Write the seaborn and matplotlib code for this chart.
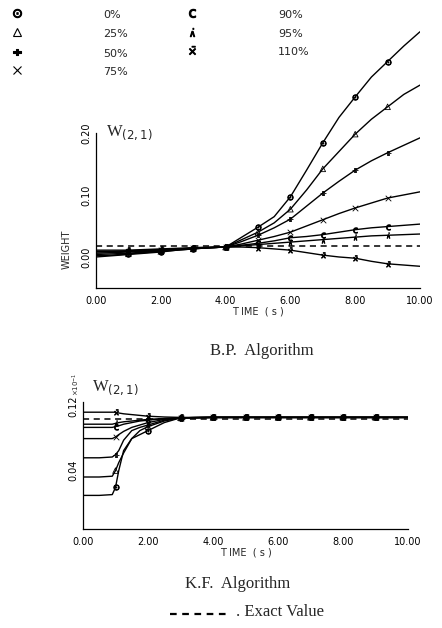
import numpy as np
import pandas as pd
import matplotlib
matplotlib.use('Agg')
import matplotlib.pyplot as plt
import seaborn as sns

# initial-value levels (percent of exact value)
labels = ['0%', '25%', '50%', '75%', '90%', '95%', '110%']
markers = [r'$\odot$', '^', r'$\div$', 'x', r'$\mathsf{c}$', r'$\dot{\wedge}$', r'$\bar{\times}$']

# --- B.P. algorithm, W(2,1), sampled every 0.5 s ---
bp_time = [0.0, 0.5, 1.0, 1.5, 2.0, 2.5, 3.0, 3.5, 4.0, 4.5, 5.0, 5.5, 6.0, 6.5, 7.0, 7.5, 8.0, 8.5, 9.0, 9.5, 10.0]
bp_0 = [0.000, 0.002, 0.004, 0.006, 0.008, 0.011, 0.013, 0.015, 0.016, 0.032, 0.048, 0.065, 0.097, 0.140, 0.184, 0.225, 0.258, 0.290, 0.315, 0.340, 0.363]
bp_25 = [0.002, 0.003, 0.005, 0.007, 0.009, 0.011, 0.013, 0.015, 0.016, 0.028, 0.040, 0.055, 0.077, 0.108, 0.142, 0.170, 0.198, 0.222, 0.242, 0.262, 0.277]
bp_50 = [0.004, 0.005, 0.006, 0.008, 0.010, 0.012, 0.014, 0.015, 0.016, 0.025, 0.035, 0.047, 0.061, 0.082, 0.103, 0.122, 0.140, 0.155, 0.168, 0.180, 0.192]
bp_75 = [0.006, 0.007, 0.008, 0.009, 0.011, 0.012, 0.014, 0.015, 0.016, 0.021, 0.027, 0.033, 0.040, 0.050, 0.060, 0.070, 0.079, 0.087, 0.095, 0.100, 0.105]
bp_90 = [0.008, 0.008, 0.009, 0.010, 0.011, 0.013, 0.014, 0.015, 0.016, 0.019, 0.022, 0.026, 0.031, 0.033, 0.036, 0.040, 0.044, 0.047, 0.049, 0.051, 0.053]
bp_95 = [0.009, 0.009, 0.010, 0.011, 0.012, 0.013, 0.014, 0.015, 0.016, 0.018, 0.020, 0.022, 0.024, 0.026, 0.028, 0.030, 0.032, 0.034, 0.035, 0.036, 0.037]
bp_110 = [0.011, 0.011, 0.011, 0.012, 0.013, 0.014, 0.015, 0.016, 0.016, 0.016, 0.015, 0.013, 0.011, 0.007, 0.003, 0.000, -0.002, -0.007, -0.011, -0.013, -0.015]
bp_exact = 0.018

# --- K.F. algorithm, W(2,1) (x 10^-1) ---
kf_time = [0.0, 0.5, 0.9, 1.0, 1.1, 1.25, 1.5, 1.75, 2.0, 2.5, 3.0, 4.0, 5.0, 6.0, 7.0, 8.0, 9.0, 10.0]
kf_0 = [0.009, 0.009, 0.010, 0.019, 0.040, 0.065, 0.080, 0.085, 0.090, 0.100, 0.106, 0.1065, 0.1065, 0.1065, 0.1065, 0.1065, 0.1065, 0.1065]
kf_25 = [0.032, 0.032, 0.033, 0.040, 0.050, 0.062, 0.080, 0.090, 0.095, 0.102, 0.106, 0.1065, 0.1065, 0.1065, 0.1065, 0.1065, 0.1065, 0.1065]
kf_50 = [0.056, 0.056, 0.057, 0.060, 0.065, 0.078, 0.090, 0.094, 0.097, 0.103, 0.106, 0.1065, 0.1065, 0.1065, 0.1065, 0.1065, 0.1065, 0.1065]
kf_75 = [0.080, 0.080, 0.080, 0.082, 0.085, 0.089, 0.094, 0.097, 0.100, 0.104, 0.106, 0.1065, 0.1065, 0.1065, 0.1065, 0.1065, 0.1065, 0.1065]
kf_90 = [0.094, 0.094, 0.094, 0.095, 0.096, 0.098, 0.100, 0.102, 0.103, 0.105, 0.106, 0.1065, 0.1065, 0.1065, 0.1065, 0.1065, 0.1065, 0.1065]
kf_95 = [0.098, 0.098, 0.098, 0.099, 0.100, 0.101, 0.102, 0.103, 0.104, 0.105, 0.106, 0.1065, 0.1065, 0.1065, 0.1065, 0.1065, 0.1065, 0.1065]
kf_110 = [0.113, 0.113, 0.113, 0.113, 0.112, 0.111, 0.110, 0.109, 0.108, 0.107, 0.1065, 0.1065, 0.1065, 0.1065, 0.1065, 0.1065, 0.1065, 0.1065]
kf_exact = 0.1045

bp_series = [bp_0, bp_25, bp_50, bp_75, bp_90, bp_95, bp_110]
kf_series = [kf_0, kf_25, kf_50, kf_75, kf_90, kf_95, kf_110]

x_ticklabels = ['0.00', '2.00', '4.00', '6.00', '8.00', '10.00']

sns.set_theme(style='white')
plt.rcParams['font.family'] = ['DejaVu Sans']

fig = plt.figure(figsize=(4.42, 6.28), dpi=100)
ax1 = fig.add_axes([96 / 442, 1 - 288 / 628, 324 / 442, 273 / 628])
ax2 = fig.add_axes([83 / 442, 1 - 529 / 628, 325 / 442, 128 / 628])


def draw(ax, time, series, exact):
    for vals, mk in zip(series, markers):
        df = pd.DataFrame({'t': time, 'w': vals})
        sns.lineplot(data=df, x='t', y='w', ax=ax, color='black', lw=1.0)
        pts = df[(df['t'] % 1 == 0) & (df['t'] > 0) & (df['t'] < 10)]
        sns.scatterplot(data=pts, x='t', y='w', ax=ax, marker=mk, s=16,
                        color='black', facecolor='none' if mk == '^' else 'black',
                        edgecolor='black', linewidth=0.6, zorder=3)
    sns.lineplot(x=[0, 10], y=[exact, exact], ax=ax, color='black', lw=1.1, ls=(0, (4, 3)))
    ax.set_xlim(0, 10)
    ax.set_xticks(np.arange(0, 11, 1))
    ax.set_xticklabels([x_ticklabels[i // 2] if i % 2 == 0 else '' for i in range(11)], fontsize=7)
    ax.tick_params(axis='x', direction='in', length=3, width=0.8, pad=6, colors='black')
    ax.tick_params(axis='y', direction='inout', length=4, width=0.8, pad=1, colors='black')
    for s in ['top', 'right']:
        ax.spines[s].set_visible(False)
    for s in ['left', 'bottom']:
        ax.spines[s].set_color('black')
        ax.spines[s].set_linewidth(0.9)
    ax.set_xlabel('T IME  ( s )', fontsize=7, labelpad=0)
    ax.set_facecolor('white')


draw(ax1, bp_time, bp_series, bp_exact)
ax1.set_ylim(-0.05, 0.39)
ax1.spines['left'].set_bounds(-0.05, 0.20)
ax1.set_yticks([-0.05, 0.0, 0.05, 0.10, 0.15, 0.20])
ax1.set_yticklabels(['', '0.00', '', '0.10', '', '0.20'], rotation=90, va='center', fontsize=7)
ax1.set_ylabel('WEIGHT', fontsize=7, labelpad=1)
ax1.yaxis.set_label_coords(-0.075, 0.14)

draw(ax2, kf_time, kf_series, kf_exact)
ax2.set_ylim(-0.033, 0.127)
ax2.spines['left'].set_bounds(-0.033, 0.126)
ax2.set_yticks([-0.02, 0.0, 0.02, 0.04, 0.06, 0.08, 0.10, 0.12])
ax2.set_yticklabels(['', '', '', '0.04', '', '', '', '0.12'], rotation=90, va='center', fontsize=7)
ax2.set_ylabel('')

# W(2,1) labels
ax1.text(0.3, 0.2, r'W$_{(2,1)}$', fontsize=12, family='Liberation Serif', va='center')
fig.text(92 / 442, 1 - 388 / 628, r'W$_{(2,1)}$', fontsize=12, family='Liberation Serif', va='center')
fig.text(76 / 442, 1 - 396 / 628, r'$\times10^{-1}$', fontsize=5, rotation=90, ha='center', va='bottom')

# captions
fig.text(262 / 442, 1 - 351 / 628, 'B.P.  Algorithm', fontsize=12, family='Liberation Serif', ha='center', va='center')
fig.text(238 / 442, 1 - 584 / 628, 'K.F.  Algorithm', fontsize=12, family='Liberation Serif', ha='center', va='center')
fig.add_artist(plt.Line2D([170 / 442, 230 / 442], [1 - 614 / 628, 1 - 614 / 628], color='black', lw=1.6, ls=(0, (3, 2.5))))
fig.text(236 / 442, 1 - 612 / 628, '. Exact Value', fontsize=12, family='Liberation Serif', ha='left', va='center')

# legend block
leg_pos = [(17, 13), (17, 32), (17, 52), (17, 70), (192, 13), (192, 32), (192, 50)]
for (px, py), mk, lab in zip(leg_pos, markers, labels):
    fig.add_artist(plt.Line2D([px / 442], [1 - py / 628], marker=mk, color='black', ms=6,
                              mfc='none' if mk == '^' else 'black', mew=0.8, ls='none'))
    fig.text((px + 86) / 442, 1 - (py + 2) / 628, lab, fontsize=8, ha='left', va='center')

fig.savefig('out.png', dpi=100, facecolor='white')
